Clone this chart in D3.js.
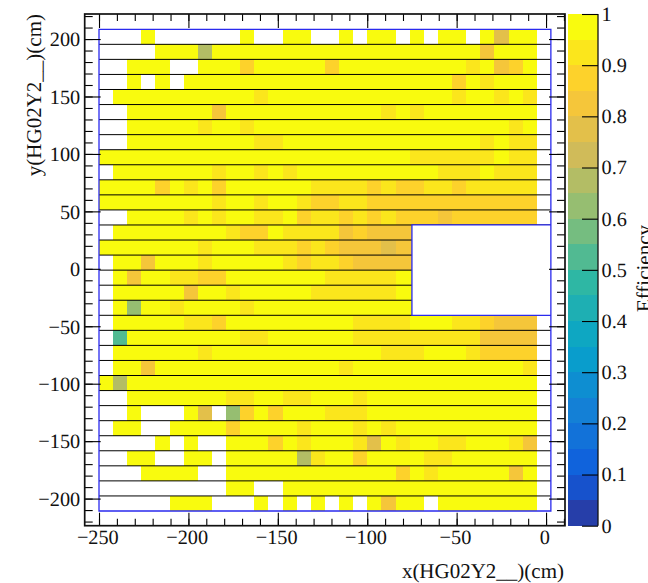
<!DOCTYPE html>
<html>
<head>
<meta charset="utf-8">
<style>
html,body{margin:0;padding:0;background:#fff;overflow:hidden}
svg{display:block}
text{font-family:"Liberation Serif","Times New Roman",serif;fill:#111;text-rendering:geometricPrecision}
</style>
<script src="https://cdn.jsdelivr.net/npm/d3@7"></script>
</head>
<body>
<svg id="c" width="648" height="583"></svg>
<script>
// ---- data -------------------------------------------------------------
const _ = null;
const xBinCount = 32;
const yBinCount = 32;
const xGridRange = [-250, 2.7];
const yGridRange = [208.5, -210.8];
const holeX = [-75, 2.7];
const holeY = [38.2, -40.46];
const xDomain = [-258, 10.6];
const yDomain = [-223.6, 221.8];
const xMajorTicks = [-250, -200, -150, -100, -50, 0];
const yMajorTicks = [-200, -150, -100, -50, 0, 50, 100, 150, 200];
const zTicks = [0, .1, .2, .3, .4, .5, .6, .7, .8, .9, 1];
const xTitle = "x(HG02Y2__)(cm)";
const yTitle = "y(HG02Y2__)(cm)";
const zTitle = "Efficiency";
const birdStops = [0, .125, .25, .375, .5, .625, .75, .875, 1];
const birdRed = [.2082, .0592, .0780, .0232, .1802, .5301, .8186, .9956, .9764];
const birdGreen = [.1664, .3599, .5041, .6419, .7178, .7492, .7328, .7862, .9832];
const birdBlue = [.5293, .8684, .8385, .7914, .6425, .4662, .3499, .1968, .0539];
const contourCount = 20;
// efficiency per cell, rows from the top of the plot, columns from the left
const efficiency = [
[_,_,_,.97,_,_,_,_,_,_,.97,_,_,.97,.97,_,_,.97,_,.97,.97,_,.97,_,.97,.97,_,.97,.77,.97,.97,_],
[_,_,_,_,.97,.97,.97,.67,.97,.97,.97,.97,.97,.97,.97,.97,.97,.97,.97,.97,.97,.97,.97,.97,.97,.97,.97,.82,.97,.97,.97,_],
[_,_,.97,.97,.97,_,_,.97,.97,.97,.87,.97,.97,.97,.97,.97,.87,.97,.97,.97,.97,.97,.97,.97,.97,.97,.92,.97,.82,.87,.97,_],
[_,_,.97,_,.97,_,.97,.97,.97,.97,.97,.97,.97,.97,.97,.97,.97,.97,.97,.97,.97,.97,.97,.97,.97,.87,.97,.92,.97,.97,.97,_],
[_,.97,.97,.97,.97,.97,.97,.97,.97,.97,.97,.92,.97,.97,.97,.97,.97,.97,.97,.97,.97,.97,.97,.97,.97,.92,.97,.97,.92,.97,.92,_],
[_,_,.97,.97,.97,.97,.97,.97,.82,.97,.97,.97,.97,.97,.97,.97,.97,.97,.97,.97,.92,.97,.92,.97,.97,.97,.97,.97,.97,.97,.97,_],
[_,_,.97,.97,.97,.97,.97,.92,.97,.97,.92,.97,.97,.97,.97,.97,.97,.97,.97,.97,.97,.97,.97,.97,.97,.97,.97,.97,.97,.92,.97,_],
[_,_,.97,.97,.97,.97,.97,.97,.97,.97,.97,.92,.92,.97,.97,.97,.97,.97,.97,.97,.97,.97,.97,.97,.97,.97,.97,.92,.97,.92,.92,_],
[.97,.97,.97,.97,.97,.97,.97,.97,.97,.97,.97,.97,.97,.97,.97,.97,.97,.97,.97,.97,.97,.97,.92,.92,.92,.92,.92,.92,.97,.92,.92,_],
[_,.97,.97,.97,.97,.97,.97,.97,.92,.97,.97,.92,.97,.92,.97,.97,.97,.97,.97,.97,.97,.97,.97,.97,.92,.92,.92,.97,.92,.92,.92,_],
[.97,.97,.97,.97,.87,.97,.92,.97,.87,.97,.97,.97,.97,.97,.97,.92,.92,.92,.92,.87,.92,.87,.87,.92,.92,.87,.92,.92,.92,.92,.92,_],
[.97,.97,.97,.97,.97,.97,.97,.97,.92,.97,.97,.92,.97,.97,.92,.87,.87,.92,.92,.87,.87,.87,.87,.87,.87,.87,.87,.87,.87,.87,.87,_],
[_,_,.97,.97,.97,.97,.92,.97,.92,.97,.97,.92,.92,.97,.87,.92,.92,.87,.92,.87,.92,.87,.87,.87,.82,.87,.87,.87,.87,.87,.87,_],
[_,.97,.97,.97,.97,.97,.97,.97,.97,.92,.87,.87,.97,.92,.92,.92,.92,.82,.87,.82,.82,.82,.82,_,_,_,_,_,_,_,_,_],
[.97,.97,.97,.97,.97,.97,.97,.92,.97,.97,.97,.92,.92,.92,.87,.92,.87,.82,.82,.82,.77,.82,.82,_,_,_,_,_,_,_,_,_],
[_,.97,.97,.82,.97,.97,.97,.92,.97,.97,.97,.97,.97,.92,.87,.92,.92,.87,.82,.82,.82,.82,.82,_,_,_,_,_,_,_,_,_],
[_,.97,.82,.97,.97,.92,.92,.87,.87,.97,.97,.97,.97,.97,.97,.97,.92,.92,.92,.92,.92,.97,.97,_,_,_,_,_,_,_,_,_],
[_,.97,.97,.97,.97,.97,.82,.97,.97,.92,.97,.97,.97,.97,.97,.92,.92,.92,.92,.92,.92,.97,.97,_,_,_,_,_,_,_,_,_],
[_,.97,.62,.97,.97,.92,.97,.97,.97,.97,.92,.97,.97,.97,.97,.97,.97,.97,.97,.97,.97,.97,.97,_,_,_,_,_,_,_,_,_],
[_,.97,.97,.97,.97,.97,.92,.92,.87,.97,.97,.97,.97,.97,.97,.97,.97,.97,.92,.92,.92,.92,.97,.97,.97,.92,.92,.87,.82,.82,.82,_],
[_,.52,.97,.97,.97,.97,.97,.97,.97,.97,.92,.92,.97,.97,.97,.97,.97,.97,.92,.92,.92,.92,.92,.92,.92,.92,.92,.82,.82,.82,.82,_],
[_,.97,.97,.97,.97,.97,.97,.92,.97,.97,.97,.97,.97,.97,.97,.97,.97,.97,.97,.97,.92,.92,.92,.97,.97,.97,.92,.87,.87,.87,.87,_],
[_,.97,.97,.82,.97,.97,.97,.97,.97,.97,.97,.97,.97,.97,.97,.97,.97,.92,.97,.97,.97,.97,.97,.97,.97,.97,.97,.97,.97,.97,.92,_],
[.97,.67,.97,.97,.97,.97,.97,.97,.97,.97,.97,.97,.97,.97,.97,.97,.97,.97,.97,.97,.97,.97,.97,.97,.97,.97,.97,.97,.97,.97,.97,_],
[_,_,.97,.97,.97,.97,.97,.97,.97,.92,.92,.97,.97,.92,.92,.97,.97,.97,.92,.97,.97,.97,.97,.97,.97,.97,.97,.97,.97,.97,.97,_],
[_,_,.97,_,_,_,.97,.77,_,.62,.87,.97,.87,.97,.97,.97,.92,.92,.92,.97,.97,.97,.97,.97,.97,.97,.97,.97,.97,.97,.97,_],
[_,.97,.97,_,_,.97,.97,.97,.97,.87,.97,.97,.97,.97,.92,.97,.97,.97,.92,.97,.92,.97,.97,.97,.97,.97,.97,.97,.97,.97,.97,_],
[_,_,_,_,.97,_,.97,_,_,.97,.97,.97,.87,.97,.92,.97,.97,.97,.92,.77,.97,.92,.97,.97,.92,.92,.97,.97,.97,.92,.82,_],
[_,_,.97,.97,_,_,.97,.97,_,.97,.97,.97,.97,.97,.67,.92,.97,.97,.87,.97,.97,.97,.97,.92,.92,.97,.97,.97,.97,.97,.97,_],
[_,_,_,.97,.97,.97,.97,_,_,.97,.97,.97,.97,.97,.97,.97,.97,.97,.97,.97,.97,.87,.97,.92,.97,.97,.97,.97,.97,.82,.97,_],
[_,_,_,_,_,_,_,_,_,.97,.97,_,_,.97,.97,.97,.97,.97,.97,.97,.97,.97,.97,.97,.97,.97,.97,.97,.97,.97,.97,_],
[_,_,_,_,_,.97,.97,.97,_,_,_,.97,_,.97,_,.97,_,.97,_,.97,.82,.97,.97,_,.97,.97,.97,.97,.97,.97,.97,_]
];

// ---- scales -----------------------------------------------------------
const x = d3.scaleLinear().domain(xDomain).range([84.7, 565]);
const y = d3.scaleLinear().domain(yDomain).range([525.7, 14]);
const z = d3.scaleLinear().domain([0, 1]).range([525.7, 14]);
const xEdge = d3.scaleLinear().domain([0, xBinCount]).range(xGridRange);
const yEdge = d3.scaleLinear().domain([0, yBinCount]).range(yGridRange);
const toHex = v => Math.round(v * 255);
const rScale = d3.scaleLinear().domain(birdStops).range(birdRed);
const gScale = d3.scaleLinear().domain(birdStops).range(birdGreen);
const bScale = d3.scaleLinear().domain(birdStops).range(birdBlue);
const bandColor = i => {
  const t = Math.min(1, (i + .99) / contourCount);
  return d3.rgb(toHex(rScale(t)), toHex(gScale(t)), toHex(bScale(t))).formatHex();
};
const bandOf = v => Math.min(contourCount - 1, Math.floor(v * contourCount));

// ---- drawing ----------------------------------------------------------
const svg = d3.select("#c");
const defs = svg.append("defs");
const outlinePath = `M${x(xGridRange[0])},${y(yGridRange[0])}H${x(xGridRange[1])}V${y(yGridRange[1])}H${x(xGridRange[0])}Z` +
  `M${x(holeX[0])},${y(holeY[0])}H${x(holeX[1])}V${y(holeY[1])}H${x(holeX[0])}Z`;
defs.append("clipPath").attr("id", "gridClip").append("path")
  .attr("clip-rule", "evenodd").attr("d", outlinePath);

const cells = efficiency.flatMap((row, r) => row.map((v, c) => ({ r, c, v }))).filter(d => d.v !== null);
const grid = svg.append("g").attr("clip-path", "url(#gridClip)");
grid.append("g").attr("shape-rendering", "crispEdges").selectAll("rect").data(cells).join("rect")
  .attr("x", d => x(xEdge(d.c)))
  .attr("y", d => y(yEdge(d.r)))
  .attr("width", d => x(xEdge(d.c + 1)) - x(xEdge(d.c)))
  .attr("height", d => y(yEdge(d.r + 1)) - y(yEdge(d.r)))
  .attr("fill", d => bandColor(bandOf(d.v)));

// horizontal row separators
grid.append("g").selectAll("line").data(d3.range(1, yBinCount)).join("line")
  .attr("x1", x(xGridRange[0])).attr("x2", x(xGridRange[1]))
  .attr("y1", d => y(yEdge(d))).attr("y2", d => y(yEdge(d)))
  .attr("stroke", "#000").attr("stroke-width", 1);

// blue outline
svg.append("path")
  .attr("fill", "none").attr("stroke", "#2a2aee").attr("stroke-width", 1.3)
  .attr("d", outlinePath);

// axes
const styleAxis = g => { g.select(".domain").remove(); g.selectAll("line").attr("stroke", "#000").attr("stroke-width", 1.1); };
const xMinor = d3.range(-250, 11, 10);
const yMinor = d3.range(-220, 221, 10);
const axes = svg.append("g");
axes.append("g").attr("transform", `translate(0,${y.range()[0]})`)
  .call(d3.axisBottom(x).tickValues(xMinor).tickSize(-7).tickFormat("")).call(styleAxis);
axes.append("g").attr("transform", `translate(0,${y.range()[0]})`)
  .call(d3.axisBottom(x).tickValues(xMajorTicks).tickSize(-13).tickPadding(12)).call(styleAxis)
  .selectAll("text").attr("font-size", 20.3).attr("dx", -1.7).attr("y", 0).attr("dy", 18.5);
axes.append("g").attr("transform", `translate(0,${y.range()[1]})`)
  .call(d3.axisTop(x).tickValues(xMinor).tickSize(-7).tickFormat("")).call(styleAxis);
axes.append("g").attr("transform", `translate(0,${y.range()[1]})`)
  .call(d3.axisTop(x).tickValues(xMajorTicks).tickSize(-14).tickFormat("")).call(styleAxis);
axes.append("g").attr("transform", `translate(${x.range()[0]},0)`)
  .call(d3.axisLeft(y).tickValues(yMinor).tickSize(-8).tickFormat("")).call(styleAxis);
axes.append("g").attr("transform", `translate(${x.range()[0]},0)`)
  .call(d3.axisLeft(y).tickValues(yMajorTicks).tickSize(-16)).call(styleAxis)
  .selectAll("text").attr("font-size", 20.3).attr("x", -4.5).attr("dy", 6.8).attr("text-anchor", "end");
axes.append("g").attr("transform", `translate(${x.range()[1]},0)`)
  .call(d3.axisRight(y).tickValues(yMinor).tickSize(-8).tickFormat("")).call(styleAxis);
axes.append("g").attr("transform", `translate(${x.range()[1]},0)`)
  .call(d3.axisRight(y).tickValues(yMajorTicks).tickSize(-16).tickFormat("")).call(styleAxis);

// frame
svg.append("rect").attr("x", x.range()[0]).attr("y", y.range()[1])
  .attr("width", x.range()[1] - x.range()[0]).attr("height", y.range()[0] - y.range()[1])
  .attr("fill", "none").attr("stroke", "#111").attr("stroke-width", 1.7);

// colour bar
const bar = svg.append("g");
bar.append("g").attr("shape-rendering", "crispEdges").selectAll("rect").data(d3.range(contourCount)).join("rect")
  .attr("x", 567.7).attr("width", 30.3)
  .attr("y", d => z((d + 1) / contourCount))
  .attr("height", d => z(d / contourCount) - z((d + 1) / contourCount))
  .attr("fill", d => bandColor(d));
bar.append("line").attr("x1", 598).attr("x2", 598).attr("y1", 14).attr("y2", 525.7)
  .attr("stroke", "#111").attr("stroke-width", 1.3);
bar.append("g").attr("transform", "translate(598,0)")
  .call(d3.axisRight(z).tickValues(zTicks).tickSize(-16).tickFormat(d3.format("~g"))).call(styleAxis)
  .selectAll("text").attr("font-size", 20.3).attr("x", 3.5).attr("dy", 6.4).attr("text-anchor", "start");

// titles
svg.append("text").attr("x", 564).attr("y", 578).attr("text-anchor", "end")
  .attr("font-size", 21).text(xTitle);
svg.append("text").attr("transform", "translate(41,14) rotate(-90)").attr("text-anchor", "end")
  .attr("font-size", 21).text(yTitle);
svg.append("text").attr("transform", "translate(651,225) rotate(-90)").attr("text-anchor", "end")
  .attr("font-size", 21).text(zTitle);
</script>
</body>
</html>
